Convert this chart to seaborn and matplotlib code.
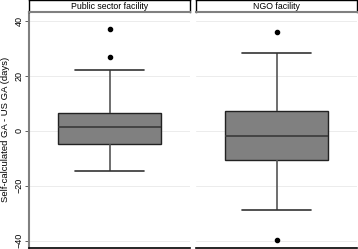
import numpy as np
import pandas as pd
import seaborn as sns
import matplotlib.pyplot as plt

# sample values chosen so the box summaries match the figure
public_vals = [-14.8, -10.0, -7.0, -4.9, -2.0, 0.0, 1.2, 3.0, 5.0, 6.6, 22.0, 27.0, 37.0]
ngo_vals = [-39.9, -28.9, -20.0, -10.7, -7.0, -4.0, -2.0, 2.0, 5.0, 7.1, 15.0, 28.1, 35.9]
panel_titles = ['Public sector facility', 'NGO facility']
y_ticks = [-40, -20, 0, 20, 40]
y_label = 'Self-calculated GA - US GA (days)'

sns.set_style('white')
plt.rcParams['font.family'] = ['Liberation Sans', 'DejaVu Sans']

W, H = 358, 249
fig = plt.figure(figsize=(W / 100, H / 100), dpi=100)

panels = [(29, public_vals), (196, ngo_vals)]
pw = 161
top_px, bot_px, strip_top = 12, 247.5, 0.5

for i, (left, vals) in enumerate(panels):
    ax = fig.add_axes([left / W, (H - bot_px) / H, pw / W, (bot_px - top_px) / H])
    sns.boxplot(y=vals, ax=ax, width=0.64, color='#808080', whis=1.5,
                linecolor='#333333', linewidth=1.0, fliersize=3,
                capwidths=0.43,
                flierprops=dict(marker='o', markerfacecolor='black',
                                markeredgecolor='black'),
                medianprops=dict(color='#3a3a3a', linewidth=1.2),
                whiskerprops=dict(color='#555555', linewidth=1.2),
                capprops=dict(color='#333333', linewidth=1.2),
                boxprops=dict(facecolor='#808080', edgecolor='#222222'))
    ax.set_xlim(-0.5, 0.5)
    ax.set_ylim(-42.5, 43.2)
    ax.set_yticks(y_ticks)
    ax.set_xticks([])
    ax.grid(axis='y', color='#ececec', linewidth=0.7)
    ax.set_axisbelow(True)
    for s in ['top', 'right']:
        ax.spines[s].set_visible(False)
    ax.spines['bottom'].set_color('black')
    ax.spines['bottom'].set_linewidth(1.2)
    if i == 0:
        ax.spines['left'].set_color('#808080')
        ax.spines['left'].set_linewidth(1.5)
        ax.tick_params(axis='y', left=True, length=3, width=0.6, color='#444444',
                       labelsize=6.5, labelcolor='black', pad=1)
        for lab in ax.get_yticklabels():
            lab.set_rotation(90)
            lab.set_va('center')
        ax.set_ylabel(y_label, fontsize=6.8, color='black', labelpad=3)
    else:
        ax.spines['left'].set_visible(False)
        ax.tick_params(axis='y', left=False, labelleft=False)
        ax.set_ylabel('')

    # header strip
    sax = fig.add_axes([left / W, (H - top_px) / H, pw / W, (top_px - strip_top) / H])
    sax.set_xticks([])
    sax.set_yticks([])
    for s in sax.spines.values():
        s.set_color('black')
        s.set_linewidth(1.0)
    sax.spines['bottom'].set_color('#808080')
    sax.spines['bottom'].set_linewidth(1.5)
    sax.text(0.5, 0.45, panel_titles[i], ha='center', va='center', fontsize=6.3,
             color='black', transform=sax.transAxes)

fig.savefig('out.png', dpi=100)
plt.close(fig)
